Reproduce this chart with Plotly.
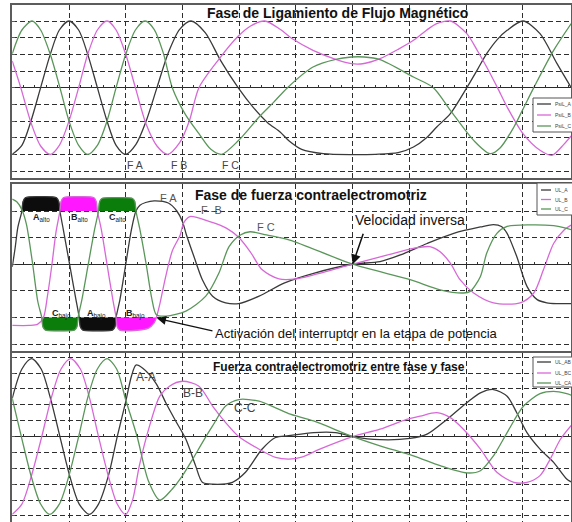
import plotly.graph_objects as go

W, H = 572, 522

# ---------------------------------------------------------------
# Panel 1 - flux linkage of each phase (time in grid units)
# ---------------------------------------------------------------
psi_a_t = [0, 0.17, 0.33, 0.5, 0.67, 0.83, 1.0, 1.17, 1.33, 1.5,
           1.67, 1.83, 2.0, 2.18, 2.36, 2.55, 2.75, 2.95, 3.15, 3.4,
           3.67, 3.98, 4.25, 4.5, 4.72, 4.88, 5.1, 5.48, 5.98, 6.4,
           6.8, 7.07, 7.3, 7.48, 7.72, 8.01, 8.2, 8.36, 8.55, 8.72,
           9.0, 9.3, 9.6, 9.85]
psi_a_v = [-4, -3.46, -2, 0, 2, 3.46, 4, 3.46, 2, 0,
           -2, -3.46, -4, -3.4, -2.0, 0, 2.1, 3.5, 4, 3.3,
           1.64, 0, -1.2, -2.1, -2.66, -3.2, -3.7, -3.96, -4.02, -4.0,
           -3.9, -3.56, -3.0, -2.36, -1.56, 0, 1.1, 2.04, 2.9, 3.44,
           4, 3.24, 1.44, 0.0]

psi_b_t = [0, 0.15, 0.33, 0.5, 0.67, 0.83, 1.0, 1.17, 1.33, 1.5,
           1.67, 1.83, 2.0, 2.17, 2.36, 2.55, 2.74, 2.95, 3.12, 3.29,
           3.64, 3.98, 4.2, 4.45, 4.72, 4.95, 5.3, 5.7, 5.98, 6.2,
           6.48, 6.8, 7.07, 7.3, 7.48, 7.72, 8.01, 8.2, 8.36, 8.55,
           8.72, 9.0, 9.3, 9.51, 9.72, 9.85]
psi_b_v = [1.6, 0, -2.1, -3.5, -4, -3.46, -2, 0, 2, 3.46,
           4, 3.46, 2, 0, -2.2, -3.5, -4, -3.3, -2.0, 0,
           1.7, 3.08, 3.7, 4.0, 3.5, 2.9, 2.24, 1.7, 1.44, 1.45,
           1.74, 2.3, 2.84, 3.45, 3.84, 4.0, 3.24, 2.2, 1.24, 0,
           -1.16, -2.76, -3.76, -4.06, -3.4, -2.9]

psi_c_t = [0, 0.17, 0.35, 0.5, 0.67, 0.84, 1.0, 1.17, 1.33, 1.5,
           1.67, 1.83, 2.0, 2.17, 2.34, 2.5, 2.66, 2.82, 3.05, 3.29,
           3.5, 3.69, 3.99, 4.35, 4.6, 4.85, 5.3, 5.7, 5.98, 6.2,
           6.48, 7.07, 7.42, 7.72, 8.13, 8.42, 8.6, 8.84, 8.99, 9.19,
           9.54, 9.85]
psi_c_v = [2.04, 3.46, 4, 3.46, 2, 0, -2, -3.46, -4, -3.46,
           -2, 0, 2, 3.46, 4, 3.5, 2.1, 0, -1.6, -2.76,
           -3.7, -4, -3.16, -1.76, -0.9, 0, 1.24, 1.7, 1.84, 1.84,
           1.68, 0.64, 0, -1.36, -3.16, -3.96, -3.6, -2.36, -1.36, 0,
           2.24, 3.85]

# ---------------------------------------------------------------
# Panel 2 - phase back-EMF
# ---------------------------------------------------------------
ul_a_t = [0, 0.05, 0.1, 0.17, 0.19, 0.23, 0.5, 0.78, 0.82, 0.84,
          0.9, 1.01, 1.12, 1.18, 1.2, 1.24, 1.5, 1.77, 1.81, 1.83,
          1.9, 2.0, 2.1, 2.18, 2.25, 2.35, 2.5, 2.75, 2.9, 3.0,
          3.07, 3.2, 3.35, 3.53, 3.76, 3.99, 4.35, 4.8, 5.31, 6.0,
          6.48, 6.84, 7.31, 7.78, 8.25, 8.48, 8.62, 8.72, 8.89, 9.07,
          9.25, 9.42, 9.6, 9.85]
ul_a_v = [-0.1, 0.6, 1.4, 2.0, 2.35, 2.5, 2.54, 2.5, 2.35, 2.0,
          1.3, 0, -1.3, -2.0, -2.35, -2.47, -2.5, -2.47, -2.35, -2.0,
          -1.3, 0, 1.3, 2.0, 2.22, 2.32, 2.38, 2.3, 2.0, 1.6,
          1.1, 0.3, -0.58, -1.2, -1.45, -1.48, -1.2, -0.7, -0.34, 0,
          0.1, 0.35, 0.78, 1.16, 1.4, 1.49, 1.42, 1.16, 0.29, -0.83,
          -1.33, -1.45, -1.48, -1.48]

ul_b_t = [0, 0.3, 0.45, 0.55, 0.62, 0.7, 0.77, 0.84, 0.86, 0.9,
          1.17, 1.44, 1.48, 1.5, 1.57, 1.67, 1.77, 1.83, 1.85, 1.89,
          2.2, 2.4, 2.5, 2.54, 2.6, 2.7, 2.82, 2.96, 3.02, 3.13,
          3.48, 3.78, 3.98, 4.2, 4.4, 4.7, 5.0, 5.31, 6.0, 6.6,
          7.07, 7.36, 7.54, 7.72, 7.89, 8.13, 8.48, 8.95, 9.19, 9.36,
          9.54, 9.72, 9.85]
ul_b_v = [-2.3, -2.3, -2.25, -2.0, -1.2, 0, 1.2, 2.0, 2.35, 2.5,
          2.54, 2.5, 2.35, 2.0, 1.3, 0, -1.3, -2.0, -2.35, -2.47,
          -2.48, -2.4, -2.2, -2.0, -1.5, -0.5, 0.5, 1.1, 1.55, 1.79,
          1.6, 1.35, 1.03, 0.45, -0.2, -0.55, -0.55, -0.4, 0, 0.34,
          0.6, 0.66, 0.47, 0.04, -0.58, -1.08, -1.45, -1.45, -1.08, -0.21,
          0.78, 1.28, 1.47]

ul_c_t = [0, 0.08, 0.17, 0.25, 0.36, 0.45, 0.52, 0.54, 0.58, 0.84,
          1.1, 1.14, 1.16, 1.23, 1.34, 1.45, 1.52, 1.54, 1.58, 1.85,
          2.12, 2.16, 2.18, 2.25, 2.36, 2.46, 2.54, 2.71, 3.06, 3.41,
          3.64, 3.82, 4.02, 4.19, 4.48, 4.89, 6.0, 7.01, 7.54, 7.95,
          8.07, 8.25, 8.36, 8.54, 8.72, 9.13, 9.54, 9.72, 9.85]
ul_c_v = [2.45, 2.35, 2.05, 1.5, 0, -1.4, -2.0, -2.35, -2.47, -2.5,
          -2.47, -2.35, -2.0, -1.3, 0, 1.3, 2.0, 2.35, 2.47, 2.5,
          2.47, 2.35, 2.0, 1.3, 0, -1.3, -1.9, -1.95, -1.76, -1.2,
          -0.34, 0.66, 1.1, 1.22, 1.1, 0.91, 0, -0.58, -0.96, -1.08,
          -1.02, -0.46, 0.41, 1.16, 1.42, 1.48, 1.45, 1.38, 1.3]

# Conduction intervals of the power switches: (phase, start, end, level)
switch_phase = ["A", "B", "C", "C", "A", "B"]
switch_start = [0.17, 0.84, 1.52, 0.52, 1.18, 1.83]
switch_end = [0.84, 1.50, 2.18, 1.16, 1.83, 2.54]
switch_level = [2, 2, 2, -2, -2, -2]
switch_label = ["<b>A</b><sub>alto</sub>", "<b>B</b><sub>alto</sub>",
                "<b>C</b><sub>alto</sub>", "<b>C</b><sub>bajo</sub>",
                "<b>A</b><sub>bajo</sub>", "<b>B</b><sub>bajo</sub>"]

# ---------------------------------------------------------------
# Panel 3 - line-to-line back-EMF
# ---------------------------------------------------------------
ul_ab_t = [0, 0.17, 0.34, 0.51, 0.67, 0.84, 1.01, 1.18, 1.36, 1.52,
           1.7, 1.85, 2.0, 2.1, 2.18, 2.3, 2.53, 2.71, 2.88, 3.06,
           3.23, 3.35, 3.53, 3.88, 4.11, 4.4, 4.64, 4.87, 5.31, 5.7,
           6.0, 6.48, 7.01, 7.31, 7.66, 8.01, 8.25, 8.48, 8.72, 8.89,
           9.07, 9.3, 9.54, 9.77, 9.85]
ul_ab_v = [2.4, 4.25, 4.9, 4.25, 2.45, 0, -2.45, -4.25, -4.9, -4.25,
           -2.4, 0, 2.2, 3.8, 4.5, 4.3, 3.37, 2.1, 0.98, -0.17,
           -1.83, -2.88, -3.0, -2.88, -2.25, -0.8, -0.06, 0.05, 0.25, 0.25,
           0, -0.2, -0.12, 0.15, 1.08, 2.13, 2.75, 2.96, 2.54, 1.5,
           0.25, -0.79, -1.63, -2.67, -2.85]

ul_bc_t = [0, 0.17, 0.34, 0.52, 0.69, 0.86, 1.03, 1.2, 1.36, 1.52,
           1.69, 1.85, 2.0, 2.12, 2.24, 2.42, 2.6, 2.77, 3.0, 3.29,
           3.53, 3.76, 3.99, 4.35, 4.64, 4.87, 5.1, 5.42, 6.0, 6.48,
           6.95, 7.19, 7.48, 7.72, 7.95, 8.25, 8.54, 8.84, 9.07, 9.3,
           9.48, 9.66, 9.85]
ul_bc_v = [-4.9, -4.25, -2.45, 0, 2.45, 4.25, 4.9, 4.25, 2.45, 0,
           -2.45, -4.25, -4.9, -4.0, -1.83, 0.67, 2.54, 3.17, 3.48, 3.17,
           1.92, 0.88, 0, -0.8, -1.31, -1.42, -1.3, -0.79, 0, 0.46,
           1.08, 1.29, 1.5, 1.19, 0.46, -0.79, -2.25, -2.88, -2.88, -2.46,
           -1.42, -0.17, 0.7]

ul_ca_t = [0, 0.16, 0.33, 0.5, 0.66, 0.83, 1.0, 1.17, 1.33, 1.5,
           1.67, 1.84, 2.0, 2.2, 2.4, 2.6, 2.82, 3.0, 3.18, 3.35,
           3.53, 3.76, 3.99, 4.35, 4.64, 4.87, 5.31, 6.0, 6.48, 7.07,
           7.54, 8.01, 8.25, 8.48, 8.72, 9.01, 9.3, 9.54, 9.77, 9.85]
ul_ca_v = [2.4, 0, -2.45, -4.25, -4.9, -4.25, -2.45, 0, 2.45, 4.25,
           4.9, 4.25, 2.3, 0, -2.8, -4.0, -3.3, -2.46, -1.42, -0.38,
           0.67, 1.92, 2.33, 2.23, 1.81, 1.45, 0.98, 0, -0.58, -1.21,
           -1.83, -2.29, -2.15, -1.21, 0.25, 1.92, 2.7, 2.85, 2.7, 2.6]

# ---------------------------------------------------------------
# Styling
# ---------------------------------------------------------------
FONT = "Liberation Sans, Arial, sans-serif"
LINE_COL = {"A": "#3a3a3a", "B": "#d868d8", "C": "#5a965a"}
FILL_COL = {"A": "#0d0d0d", "B": "#ff18ff", "C": "#0b7d0b"}
GRID = "#2e2e2e"
FRAME = "#5c5c5c"
DASH = "5px,3px"

X_DOMAIN = [12.25 / W, 571 / W]
X_RANGE = [0, 9.846]
# panel frames in pixels (top, bottom) and their value ranges
PANELS = [(5, 178, [-5.42, 4.96]),
          (184, 351, [-3.26, 3.015]),
          (353, 522, [-5.38, 5.26])]
SUF = ["", "2", "3"]

fig = go.Figure()

for i, (top, bot, yr) in enumerate(PANELS):
    s = SUF[i]
    dom = [1 - bot / H, 1 - top / H]
    xa = dict(domain=X_DOMAIN, range=X_RANGE, anchor="y" + s, tick0=0, dtick=1,
              showgrid=True, gridcolor=GRID, griddash=DASH, gridwidth=1,
              showticklabels=False, ticks="", zeroline=False,
              showline=True, linecolor=FRAME, linewidth=1.5, mirror=True)
    if i == 2:
        xa.update(side="top", mirror=False)
    ya = dict(domain=dom, range=yr, anchor="x" + s, tick0=0, dtick=1,
              showgrid=True, gridcolor=GRID, griddash=DASH, gridwidth=1,
              zeroline=True, zerolinecolor="#2a2a2a", zerolinewidth=1.2,
              showticklabels=False, ticks="inside", ticklen=3, tickcolor=FRAME,
              showline=True, linecolor=FRAME, linewidth=1.5, mirror=True)
    fig.update_layout(**{"xaxis" + s: xa, "yaxis" + s: ya})
    # small ticks along the zero line
    zero_pos = dom[0] + (0 - yr[0]) / (yr[1] - yr[0]) * (dom[1] - dom[0])
    xo = "xaxis" + str(4 + i)
    fig.update_layout(**{xo: dict(domain=X_DOMAIN, range=X_RANGE, overlaying="x" + s,
                                  anchor="free", position=zero_pos, tick0=0, dtick=0.2,
                                  ticks="inside", ticklen=2.5, tickcolor="#333",
                                  showgrid=False, zeroline=False, showline=False,
                                  showticklabels=False)})
    fig.add_trace(go.Scatter(x=[0], y=[0], xaxis="x" + str(4 + i), yaxis="y" + s,
                             mode="markers", marker=dict(opacity=0), hoverinfo="skip",
                             showlegend=False))


def curve(t, v, phase, s, name):
    return go.Scatter(x=t, y=v, xaxis="x" + s, yaxis="y" + s, mode="lines", name=name,
                      line=dict(color=LINE_COL[phase], width=1.3, shape="spline",
                                smoothing=0.8),
                      showlegend=False, hoverinfo="skip")


# switch conduction patches (drawn below the phase curves)
series2 = {"A": (ul_a_t, ul_a_v), "B": (ul_b_t, ul_b_v), "C": (ul_c_t, ul_c_v)}
for ph, t0, t1, lvl in zip(switch_phase, switch_start, switch_end, switch_level):
    ts, vs = series2[ph]
    px = [t0] + [t for t in ts if t0 < t < t1] + [t1]
    py = [lvl] + [v for t, v in zip(ts, vs) if t0 < t < t1] + [lvl]
    fig.add_trace(go.Scatter(x=px, y=py, xaxis="x2", yaxis="y2", mode="lines",
                             fill="toself", fillcolor=FILL_COL[ph],
                             line=dict(width=0.5, color=FILL_COL[ph], shape="spline",
                                       smoothing=0.6),
                             showlegend=False, hoverinfo="skip"))

fig.add_trace(curve(psi_a_t, psi_a_v, "A", "", "PsiL_A"))
fig.add_trace(curve(psi_b_t, psi_b_v, "B", "", "PsiL_B"))
fig.add_trace(curve(psi_c_t, psi_c_v, "C", "", "PsiL_C"))
fig.add_trace(curve(ul_a_t, ul_a_v, "A", "2", "UL_A"))
fig.add_trace(curve(ul_b_t, ul_b_v, "B", "2", "UL_B"))
fig.add_trace(curve(ul_c_t, ul_c_v, "C", "2", "UL_C"))
fig.add_trace(curve(ul_ab_t, ul_ab_v, "A", "3", "UL_AB"))
fig.add_trace(curve(ul_bc_t, ul_bc_v, "B", "3", "UL_BC"))
fig.add_trace(curve(ul_ca_t, ul_ca_v, "C", "3", "UL_CA"))

shapes = []
ann = []


def ptx(p):
    return p / W


def pty(p):
    return 1 - p / H


# white patch behind the third title
shapes.append(dict(type="rect", xref="paper", yref="paper", layer="between",
                   x0=ptx(204), x1=ptx(476), y0=pty(378), y1=pty(358),
                   fillcolor="white", line=dict(width=0)))

# titles
for txt, cx, cy, size in [("Fase de Ligamiento de Flujo Magnético", 337, 13.5, 14),
                          ("Fase de fuerza contraelectromotriz", 310.5, 195.5, 14),
                          ("Fuerza contraelectromotriz entre fase y fase", 339, 366.5, 12)]:
    ann.append(dict(text="<b>%s</b>" % txt, xref="paper", yref="paper",
                    x=ptx(cx), y=pty(cy), xanchor="center", yanchor="middle",
                    showarrow=False, font=dict(family=FONT, size=size, color="#111")))

# legends
legend_boxes = [
    (533, 98, 132, [104, 115, 126], ["PsiL_A", "PsiL_B", "PsiL_C"]),
    (537, 183, 215, [190, 199.5, 209], ["UL_A", "UL_B", "UL_C"]),
    (533, 357, 387, [362, 373, 383], ["UL_AB", "UL_BC", "UL_CA"]),
]
for left, top, bot, rows, names in legend_boxes:
    shapes.append(dict(type="rect", xref="paper", yref="paper", layer="above",
                       x0=ptx(left), x1=ptx(580), y0=pty(bot), y1=pty(top),
                       fillcolor="white", line=dict(color="#555", width=1)))
    for ph, ry, nm in zip(["A", "B", "C"], rows, names):
        shapes.append(dict(type="line", xref="paper", yref="paper", layer="above",
                           x0=ptx(left + 4), x1=ptx(551), y0=pty(ry), y1=pty(ry),
                           line=dict(color=LINE_COL[ph], width=1.3)))
        ann.append(dict(text=nm, xref="paper", yref="paper", x=ptx(553), y=pty(ry),
                        xanchor="left", yanchor="middle", showarrow=False,
                        font=dict(family=FONT, size=5, color="#444")))

# panel 1 markers
for txt, tx in [("F A", 2.16), ("F B", 2.93), ("F C", 3.85)]:
    ann.append(dict(text=txt, x=tx, y=-4.64, xref="x", yref="y", showarrow=False,
                    font=dict(family=FONT, size=10.5, color="#444")))

# panel 2 markers
for txt, tx, ty in [("F A", 2.75, 2.5), ("F -B", 3.51, 2.04), ("F C", 4.47, 1.41)]:
    ann.append(dict(text=txt, x=tx, y=ty, xref="x2", yref="y2", showarrow=False,
                    font=dict(family=FONT, size=11, color="#555")))
label_x = [0.52, 1.18, 1.85, 0.87, 1.49, 2.18]
label_y = [1.74, 1.74, 1.74, -1.87, -1.87, -1.87]
for txt, tx, ty in zip(switch_label, label_x, label_y):
    ann.append(dict(text=txt, x=tx, y=ty, xref="x2", yref="y2", showarrow=False,
                    font=dict(family=FONT, size=9, color="#222")))

ann.append(dict(text="Velocidad inversa", x=7.01, y=1.66, xref="x2", yref="y2",
                showarrow=False, font=dict(family=FONT, size=14, color="#111")))
ann.append(dict(text="", x=6.0, y=0.0, xref="x2", yref="y2", showarrow=True,
                ax=11, ay=-32, arrowhead=2, arrowsize=1.3, arrowwidth=1.5,
                arrowcolor="#111", standoff=0))
ann.append(dict(text="Activación del interruptor en la etapa de potencia",
                x=6.07, y=-2.59, xref="x2", yref="y2", showarrow=False,
                font=dict(family=FONT, size=13, color="#111")))
ann.append(dict(text="", x=2.55, y=-2.03, xref="x2", yref="y2", showarrow=True,
                ax=57, ay=13, arrowhead=2, arrowsize=1.5, arrowwidth=1.2,
                arrowcolor="#111", standoff=0))

# panel 3 markers
for txt, tx, ty in [("A-A", 2.35, 3.72), ("B-B", 3.18, 2.76), ("C-C", 4.1, 1.8)]:
    ann.append(dict(text=txt, x=tx, y=ty, xref="x3", yref="y3", showarrow=False,
                    font=dict(family=FONT, size=12, color="#444")))

fig.update_layout(width=W, height=H, margin=dict(l=0, r=0, t=0, b=0),
                  paper_bgcolor="white", plot_bgcolor="white",
                  showlegend=False, shapes=shapes, annotations=ann,
                  font=dict(family=FONT))

fig.write_html("out.html")
